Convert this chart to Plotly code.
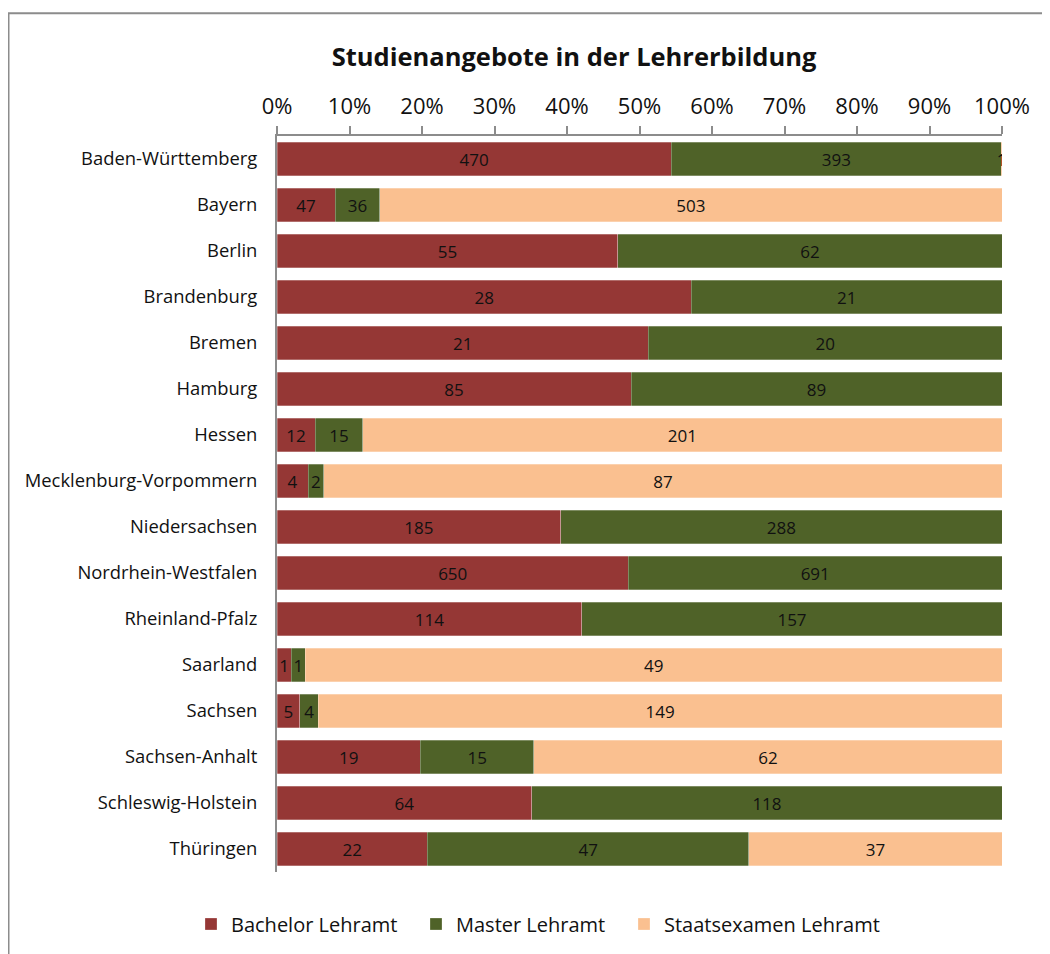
import plotly.graph_objects as go

categories = ["Baden-Württemberg", "Bayern", "Berlin", "Brandenburg", "Bremen", "Hamburg",
              "Hessen", "Mecklenburg-Vorpommern", "Niedersachsen", "Nordrhein-Westfalen",
              "Rheinland-Pfalz", "Saarland", "Sachsen", "Sachsen-Anhalt",
              "Schleswig-Holstein", "Thüringen"]
bachelor = [470, 47, 55, 28, 21, 85, 12, 4, 185, 650, 114, 1, 5, 19, 64, 22]
master = [393, 36, 62, 21, 20, 89, 15, 2, 288, 691, 157, 1, 4, 15, 118, 47]
staatsexamen = [1, 503, 0, 0, 0, 0, 201, 87, 0, 0, 0, 49, 149, 62, 0, 37]
series_names = ["Bachelor Lehramt", "Master Lehramt", "Staatsexamen Lehramt"]
colors = ["#953735", "#4F6228", "#FAC090"]
tick_vals = [0, 10, 20, 30, 40, 50, 60, 70, 80, 90, 100]
tick_text = [f"{v}%" for v in tick_vals]

FONT = "Open Sans, sans-serif"
L, R, T, B = 269, 56, 128, 90
W, H = 1050, 954
PW, PH = W - L - R, H - T - B

def px_x(x):
    return (x - L) / PW

def px_y(y):
    return (H - B - y) / PH

legend_names = ["legend", "legend2", "legend3"]
legend_x = [197, 422, 630]

fig = go.Figure()
for name, vals, col, lg in zip(series_names, [bachelor, master, staatsexamen], colors, legend_names):
    fig.add_trace(go.Bar(
        name=name, y=categories, x=vals, orientation="h", legend=lg,
        marker=dict(color=col, line=dict(color="rgba(255,255,255,0.45)", width=0.6)),
        text=[str(v) if v else "" for v in vals],
        textposition="inside", insidetextanchor="middle", constraintext="none",
        textfont=dict(color="#111111", size=17, family=FONT),
        hoverinfo="x+y+name",
    ))

legend_common = dict(orientation="h", yanchor="middle", y=px_y(916), xanchor="left",
                     font=dict(size=20, family=FONT, color="#111111"), bgcolor="rgba(0,0,0,0)")

fig.update_layout(
    width=W, height=H,
    barmode="stack", barnorm="percent", bargap=0.28,
    paper_bgcolor="white", plot_bgcolor="white",
    margin=dict(l=L, r=R, t=T, b=B),
    font=dict(family=FONT, color="#111111"),
    title=dict(text="<b>Studienangebote in der Lehrerbildung</b>", x=566 / W, xanchor="center",
               y=1 - 49 / H, yanchor="middle", font=dict(size=25.5, family=FONT, color="#111111")),
    xaxis=dict(side="top", range=[0, 100], tickvals=tick_vals, ticktext=tick_text,
               ticks="outside", ticklen=8, tickcolor="#8c8c8c", tickwidth=1.5,
               showline=True, linecolor="#8c8c8c", linewidth=2, showgrid=False, zeroline=False,
               tickfont=dict(size=22, family=FONT), ticklabelstandoff=3),
    yaxis=dict(autorange="reversed", showline=True, linecolor="#8c8c8c", linewidth=2,
               ticks="", showgrid=False, tickfont=dict(size=18.4, family=FONT), ticklabelstandoff=14),
    legend=dict(x=px_x(legend_x[0] - 14), **legend_common),
    legend2=dict(x=px_x(legend_x[1] - 14), **legend_common),
    legend3=dict(x=px_x(legend_x[2] - 14), **legend_common),
    showlegend=True,
)
fig.add_shape(type="rect", xref="paper", yref="paper",
              x0=px_x(0.5), x1=px_x(1070), y0=px_y(980), y1=px_y(5.3),
              line=dict(color="#8c8c8c", width=2), fillcolor="rgba(0,0,0,0)", layer="below")

fig.write_html("out.html")
